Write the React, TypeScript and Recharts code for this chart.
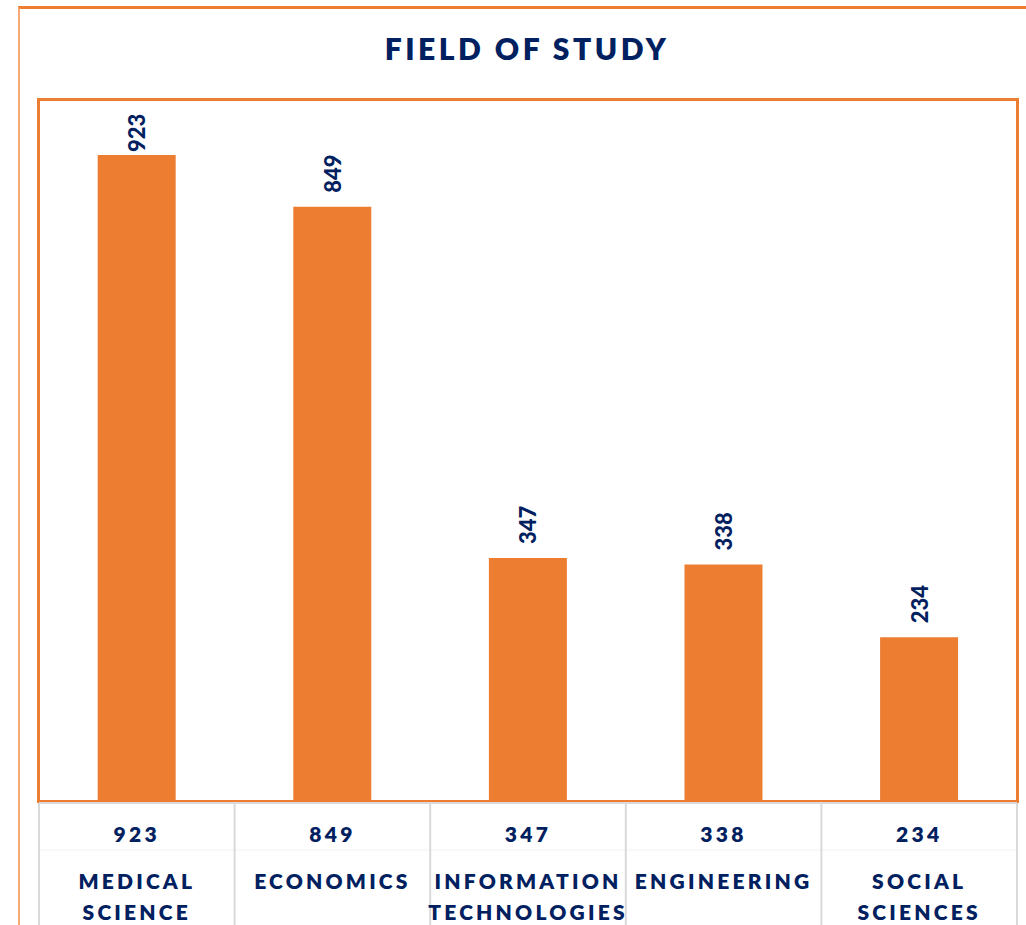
import React from 'react';
import { BarChart, Bar, XAxis, YAxis, LabelList } from 'recharts';

const categories = ['MEDICAL SCIENCE', 'ECONOMICS', 'INFORMATION TECHNOLOGIES', 'ENGINEERING', 'SOCIAL SCIENCES'];
const categoryLines = [['MEDICAL', 'SCIENCE'], ['ECONOMICS'], ['INFORMATION', 'TECHNOLOGIES'], ['ENGINEERING'], ['SOCIAL', 'SCIENCES']];
const values = [923, 849, 347, 338, 234];
const yDomain = [0, 1000];

const data = categories.map((name, i) => ({ name, value: values[i], lines: categoryLines[i] }));

const ORANGE = '#ED7D31';
const NAVY = '#002060';
const GRID = '#d9d9d9';
const FONT = 'Lato, "Open Sans", sans-serif';

const TableTick = (props: any) => {
  const { x, y, payload, index, width } = props;
  const half = payload && payload.offset ? payload.offset : (width || 978) / categories.length / 2;
  const d = data[index];
  const left = x - half;
  const right = x + half;
  return (
    <g>
      <line x1={left} x2={right} y1={y + 2} y2={y + 2} stroke={GRID} strokeWidth={2} />
      <line x1={left} x2={right} y1={y + 49} y2={y + 49} stroke="#f2f2f2" strokeWidth={1} />
      <line x1={left} x2={left} y1={y + 2} y2={y + 130} stroke={GRID} strokeWidth={2} />
      {index === categories.length - 1 && (
        <line x1={right} x2={right} y1={y + 2} y2={y + 130} stroke={GRID} strokeWidth={2} />
      )}
      <text x={x} y={y + 41} textAnchor="middle" fill={NAVY} fontFamily={FONT} fontWeight={800} fontSize={21} letterSpacing={3.3}>
        {d.value}
      </text>
      {d.lines.map((ln: string, k: number) => (
        <text key={k} x={x} y={y + 88 + k * 31} textAnchor="middle" fill={NAVY} fontFamily={FONT} fontWeight={800} fontSize={21} letterSpacing={3.2}>
          {ln}
        </text>
      ))}
    </g>
  );
};

const renderBarLabel = (props: any) => {
  const { x, y, width, value } = props;
  const cx = x + width / 2;
  const by = Math.max(y - 14, 152);
  return (
    <text
      x={cx}
      y={by}
      transform={`rotate(-90 ${cx} ${by})`}
      textAnchor="start"
      dominantBaseline="central"
      fill={NAVY}
      fontFamily={FONT}
      fontWeight={900}
      fontSize={22}
    >
      {value}
    </text>
  );
};

export default function App() {
  return (
    <div style={{ position: 'absolute', left: 0, top: 0, width: 1026, height: 925, overflow: 'hidden', background: '#fff' }}>
      {/* outer frame */}
      <div style={{ position: 'absolute', left: 18, top: 6, width: 1100, height: 1000, borderTop: `3px solid ${ORANGE}`, borderLeft: `2px solid #f4a874`, boxSizing: 'border-box' }} />
      {/* title */}
      <div style={{ position: 'absolute', left: 28, top: 33, width: 998, height: 30, lineHeight: '30px', textAlign: 'center', fontFamily: FONT, fontWeight: 800, fontSize: 30, letterSpacing: 3.5, color: NAVY }}>
        FIELD OF STUDY
      </div>
      {/* plot border */}
      <div style={{ position: 'absolute', left: 37, top: 98, width: 982, height: 705, borderTop: `3px solid ${ORANGE}`, borderLeft: `3px solid ${ORANGE}`, borderRight: `3px solid ${ORANGE}`, boxSizing: 'border-box' }} />
      <div style={{ position: 'absolute', left: 0, top: 0 }}>
        <BarChart width={1026} height={925} data={data} margin={{ top: 101, left: 39, right: 9, bottom: 0 }} barCategoryGap="30%">
          <YAxis hide domain={yDomain} />
          <XAxis
            dataKey="name"
            interval={0}
            height={124}
            tickSize={0}
            tickMargin={0}
            tickLine={false}
            axisLine={{ stroke: ORANGE, strokeWidth: 2 }}
            tick={<TableTick />}
          />
          <Bar dataKey="value" fill={ORANGE} isAnimationActive={false}>
            <LabelList dataKey="value" content={renderBarLabel} />
          </Bar>
        </BarChart>
      </div>
    </div>
  );
}
